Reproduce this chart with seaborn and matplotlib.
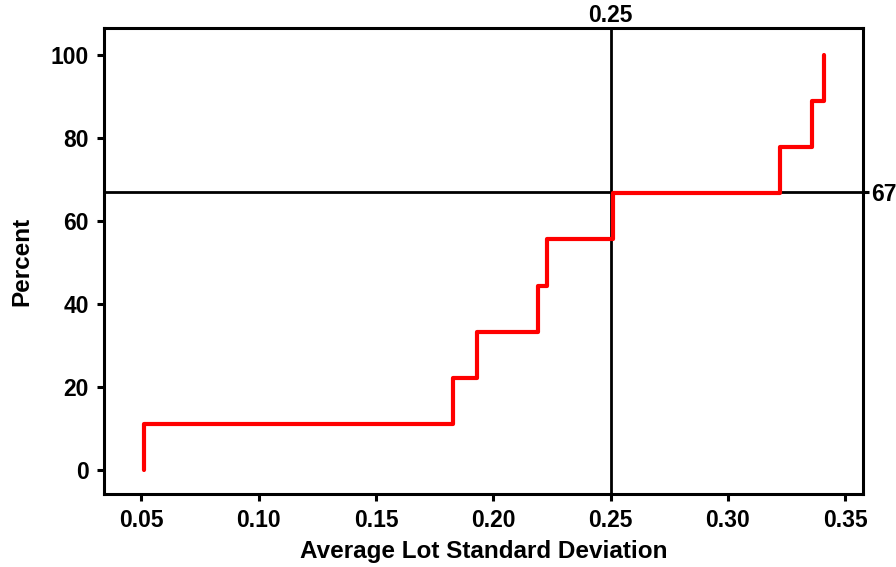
import matplotlib
matplotlib.use("Agg")
import matplotlib.pyplot as plt
import seaborn as sns
import pandas as pd

# Average lot standard deviations, sorted, and their cumulative percent
lot_sd = [0.051, 0.183, 0.193, 0.219, 0.223, 0.251, 0.322, 0.336, 0.341]
cum_percent = [11.1, 22.2, 33.3, 44.4, 55.6, 66.7, 77.8, 88.9, 100.0]
ref_x = 0.25
ref_y = 67
x_ticks = [0.05, 0.10, 0.15, 0.20, 0.25, 0.30, 0.35]
y_ticks = [0, 20, 40, 60, 80, 100]

sns.set_theme(style="ticks")
plt.rcParams["font.family"] = ["Liberation Sans", "DejaVu Sans"]
plt.rcParams["font.weight"] = "bold"
plt.rcParams["text.color"] = "black"
plt.rcParams["axes.labelcolor"] = "black"
plt.rcParams["xtick.color"] = "black"
plt.rcParams["ytick.color"] = "black"

TICK_FS = 16.5
LABEL_FS = 17.5

# Step curve starts at zero at the first value
df = pd.DataFrame({
    "sd": [lot_sd[0]] + lot_sd,
    "pct": [0.0] + cum_percent,
})

fig = plt.figure(figsize=(8.96, 5.67), dpi=100)
ax = fig.add_axes([0.116, 0.129, 0.847, 0.821])

sns.lineplot(data=df, x="sd", y="pct", ax=ax, color="#ff0000",
             linewidth=3.0, drawstyle="steps-post", sort=False,
             estimator=None, errorbar=None, zorder=3)

ax.axvline(ref_x, color="black", linewidth=2.0, zorder=2)
ax.axhline(ref_y, color="black", linewidth=2.0, zorder=2)

ax.set_xlim(0.034, 0.3575)
ax.set_ylim(-5.8, 106.4)
ax.set_xticks(x_ticks)
ax.set_xticklabels([f"{t:.2f}" for t in x_ticks])
ax.set_yticks(y_ticks)
ax.set_xlabel("Average Lot Standard Deviation", fontsize=LABEL_FS,
              fontweight="bold", labelpad=6, color="black")
ax.set_ylabel("Percent", fontsize=LABEL_FS, fontweight="bold",
              labelpad=12, color="black")

for s in ax.spines.values():
    s.set_linewidth(2.2)
    s.set_color("black")
    s.set_visible(True)
ax.tick_params(axis="both", direction="out", length=5, width=2.2,
               labelsize=TICK_FS, colors="black", pad=6)
for lbl in ax.get_xticklabels() + ax.get_yticklabels():
    lbl.set_fontweight("bold")

# Reference value labels on the top and right edges
top = ax.secondary_xaxis("top")
top.set_xticks([ref_x])
top.set_xticklabels([f"{ref_x:.2f}"], fontsize=TICK_FS, fontweight="bold")
top.tick_params(length=0, pad=1, colors="black")
top.spines["top"].set_visible(False)

right = ax.secondary_yaxis("right")
right.set_yticks([ref_y])
right.set_yticklabels([str(ref_y)], fontsize=TICK_FS, fontweight="bold")
right.tick_params(length=4, width=2.2, pad=2, colors="black")
right.spines["right"].set_visible(False)

fig.savefig("out.png", dpi=100, facecolor="white")
